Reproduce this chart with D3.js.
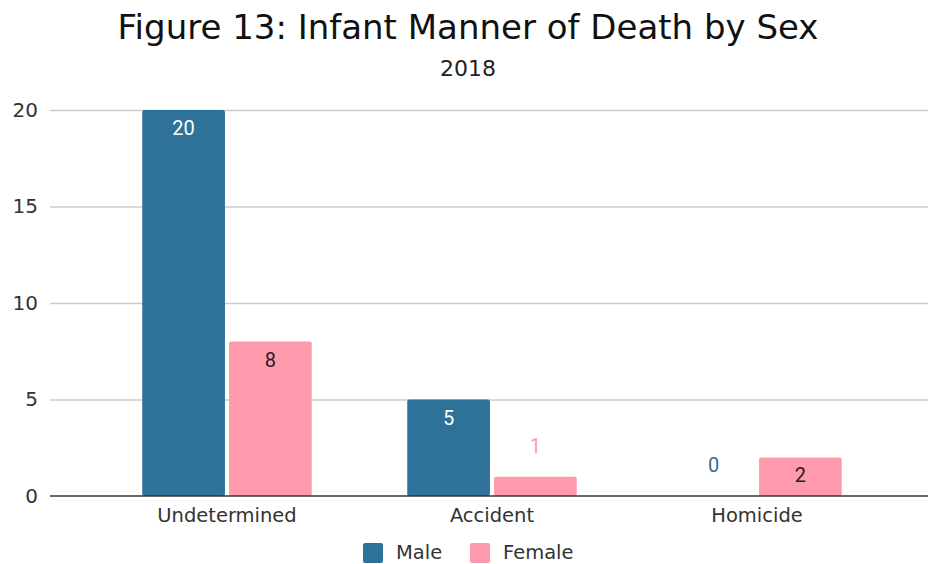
<!DOCTYPE html>
<html>
<head>
<meta charset="utf-8">
<script src="https://cdn.jsdelivr.net/npm/d3@7"></script>
<style>
  body { margin: 0; background: #fff; }
  svg { display: block; }
</style>
</head>
<body>
<svg id="canvas" width="928" height="564"></svg>
<script>
let categories = ["Undetermined", "Accident", "Homicide"]
let seriesNames = ["Male", "Female"]
let maleValues = [20, 5, 0]
let femaleValues = [8, 1, 2]
let yTicks = [0, 5, 10, 15, 20]

let colors = { Male: "#2e7199", Female: "#ff99ac" }
let font = "'DejaVu Sans', Verdana, sans-serif"

let canvas = d3.select('#canvas')

let width = 928,
    plotLeft = 50,
    plotTop = 110,
    plotBottom = 496

let rows = categories.map((c, i) => ({ cat: c, Male: maleValues[i], Female: femaleValues[i] }))

let x = d3.scaleBand().domain(categories).range([94.5, 889.5]).paddingInner(0).paddingOuter(0)
let xs = d3.scaleBand().domain(seriesNames).range([0, x.bandwidth()]).paddingOuter(0.55).paddingInner(0.047)
let y = d3.scaleLinear().domain([0, 20]).range([plotBottom, plotTop])

// title
canvas.append('text')
  .attr('x', 468).attr('y', 39)
  .attr('text-anchor', 'middle')
  .style('font-family', font).style('font-size', '34px').attr('fill', '#111')
  .text('Figure 13: Infant Manner of Death by Sex')
canvas.append('text')
  .attr('x', 468).attr('y', 76)
  .attr('text-anchor', 'middle')
  .style('font-family', font).style('font-size', '22px').attr('fill', '#222')
  .text('2018')

// grid
let yAxis = canvas.append('g')
  .attr('transform', `translate(${plotLeft},0)`)
  .call(d3.axisLeft(y).tickValues(yTicks).tickSize(-(width - plotLeft)).tickPadding(12))
yAxis.select('.domain').remove()
yAxis.selectAll('.tick line').attr('stroke', '#ccc').attr('stroke-width', 1.3)
yAxis.selectAll('.tick text')
  .style('font-family', font).style('font-size', '20px').attr('fill', '#333')
yAxis.selectAll('.tick').filter(d => d === 0).select('line').remove()

// bars
let groups = canvas.append('g').selectAll('g')
  .data(rows)
  .enter()
  .append('g')
  .attr('transform', d => `translate(${x(d.cat)},0)`)

groups.selectAll('rect')
  .data(d => seriesNames.map(s => ({ s: s, v: d[s] })))
  .enter()
  .append('rect')
  .attr('x', d => xs(d.s))
  .attr('width', xs.bandwidth())
  .attr('y', d => y(d.v))
  .attr('height', d => plotBottom - y(d.v))
  .attr('rx', 2)
  .attr('fill', d => colors[d.s])
  .attr('display', d => d.v === 0 ? 'none' : null)

// labels: inside when the bar is tall enough, otherwise above in series colour
groups.selectAll('text')
  .data(d => seriesNames.map(s => ({ s: s, v: d[s] })))
  .enter()
  .append('text')
  .attr('x', d => xs(d.s) + xs.bandwidth() / 2)
  .attr('y', d => {
    let h = plotBottom - y(d.v)
    return h > 30 ? y(d.v) + 25 : y(d.v) - 24
  })
  .attr('text-anchor', 'middle')
  .style('font-family', "Roboto, sans-serif").style('font-size', '20px')
  .attr('fill', d => {
    let h = plotBottom - y(d.v)
    if (h <= 30) return colors[d.s]
    return d.s === 'Male' ? '#fff' : '#222'
  })
  .text(d => d.v)

// x axis
canvas.append('line')
  .attr('x1', plotLeft).attr('x2', width)
  .attr('y1', plotBottom).attr('y2', plotBottom)
  .attr('stroke', '#333').attr('stroke-width', 1.3)

canvas.append('g').selectAll('text')
  .data(categories)
  .enter()
  .append('text')
  .attr('x', d => x(d) + x.bandwidth() / 2)
  .attr('y', 522)
  .attr('text-anchor', 'middle')
  .style('font-family', font).style('font-size', '19.5px').attr('fill', '#333')
  .text(d => d)

// legend
let legendX = [363, 470]
let legend = canvas.append('g').selectAll('g')
  .data(seriesNames)
  .enter()
  .append('g')
  .attr('transform', (d, i) => `translate(${legendX[i]},543)`)
legend.append('rect')
  .attr('width', 20).attr('height', 20).attr('rx', 2)
  .attr('fill', d => colors[d])
legend.append('text')
  .attr('x', 33).attr('y', 16)
  .style('font-family', font).style('font-size', '19.5px').attr('fill', '#333')
  .text(d => d)
</script>
</body>
</html>
